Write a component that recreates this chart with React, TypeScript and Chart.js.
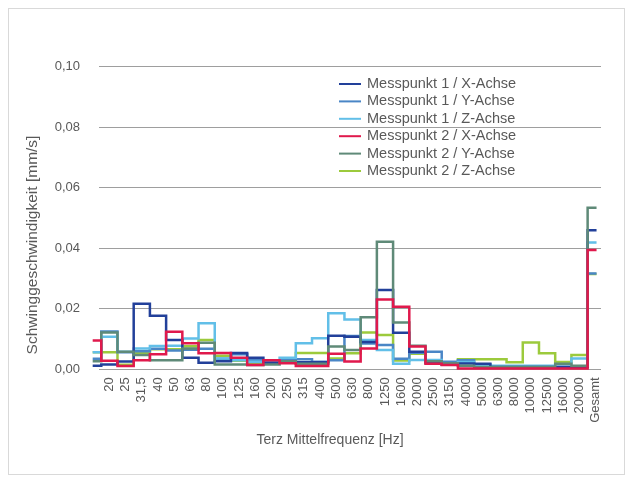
import React, { useEffect, useRef } from 'react';
import { Chart, registerables } from 'chart.js';

Chart.register(...registerables);

// Terz centre frequencies (x axis categories)
const categories = [
  '20', '25', '31,5', '40', '50', '63', '80', '100', '125', '160', '200', '250', '315', '400', '500',
  '630', '800', '1250', '1600', '2000', '2500', '3150', '4000', '5000', '6300', '8000', '10000',
  '12500', '16000', '20000', 'Gesamt',
];

// Each series: first value = lead-in level left of "20", then one value per category
const mp1X = [
  0.0012, 0.0016, 0.0026, 0.0217, 0.0177, 0.0097, 0.0038, 0.0022, 0.0027, 0.0054, 0.0038, 0.0022,
  0.0022, 0.0023, 0.0023, 0.0111, 0.0108, 0.0090, 0.0262, 0.0121, 0.0058, 0.0021, 0.0015, 0.0019,
  0.0018, 0.0008, 0.0008, 0.0008, 0.0008, 0.0008, 0.0008, 0.0460,
];
const mp1Y = [
  0.0035, 0.0125, 0.0056, 0.0060, 0.0068, 0.0062, 0.0065, 0.0068, 0.0035, 0.0050, 0.0030, 0.0022,
  0.0030, 0.0033, 0.0025, 0.0030, 0.0110, 0.0085, 0.0080, 0.0035, 0.0055, 0.0058, 0.0025, 0.0030,
  0.0015, 0.0008, 0.0008, 0.0008, 0.0008, 0.0008, 0.0008, 0.0317,
];
const mp1Z = [
  0.0056, 0.0108, 0.0058, 0.0069, 0.0077, 0.0078, 0.0102, 0.0152, 0.0036, 0.0030, 0.0025, 0.0025,
  0.0038, 0.0086, 0.0103, 0.0185, 0.0165, 0.0097, 0.0064, 0.0018, 0.0031, 0.0031, 0.0020, 0.0024,
  0.0014, 0.0012, 0.0012, 0.0012, 0.0012, 0.0017, 0.0036, 0.0419,
];
const mp2X = [
  0.0095, 0.0028, 0.0011, 0.0030, 0.0050, 0.0124, 0.0086, 0.0053, 0.0054, 0.0038, 0.0014, 0.0030,
  0.0020, 0.0011, 0.0011, 0.0051, 0.0026, 0.0069, 0.0231, 0.0207, 0.0075, 0.0018, 0.0014, 0.0003,
  0.0003, 0.0003, 0.0003, 0.0003, 0.0003, 0.0003, 0.0003, 0.0394,
];
const mp2Y = [
  0.0027, 0.0122, 0.0058, 0.0047, 0.0030, 0.0030, 0.0069, 0.0088, 0.0016, 0.0016, 0.0014, 0.0016,
  0.0027, 0.0018, 0.0018, 0.0075, 0.0064, 0.0172, 0.0422, 0.0155, 0.0078, 0.0027, 0.0020, 0.0012,
  0.0008, 0.0008, 0.0008, 0.0008, 0.0008, 0.0018, 0.0012, 0.0534,
];
const mp2Z = [
  0.0056, 0.0056, 0.0015, 0.0055, 0.0066, 0.0066, 0.0076, 0.0097, 0.0045, 0.0028, 0.0018, 0.0022,
  0.0025, 0.0054, 0.0054, 0.0036, 0.0053, 0.0122, 0.0113, 0.0029, 0.0051, 0.0025, 0.0021, 0.0033,
  0.0033, 0.0033, 0.0023, 0.0089, 0.0053, 0.0024, 0.0047, 0.0315,
];

const yTicks = [0, 0.02, 0.04, 0.06, 0.08, 0.1];

const seriesLabels = [
  'Messpunkt 1 / X-Achse',
  'Messpunkt 1 / Y-Achse',
  'Messpunkt 1 / Z-Achse',
  'Messpunkt 2 / X-Achse',
  'Messpunkt 2 / Y-Achse',
  'Messpunkt 2 / Z-Achse',
];
const seriesValues = [mp1X, mp1Y, mp1Z, mp2X, mp2Y, mp2Z];
const seriesColors = ['#22409a', '#4a86c6', '#62bfe8', '#e0194c', '#5f8a78', '#9cca3c'];
const drawOrder = [2, 4, 3, 0, 1, 5];

const FONT = '"Liberation Sans", Arial, Helvetica, sans-serif';
const TEXT = '#595959';
const LEAD_X = -0.53;
const END_X = 30.55;

function toPoints(values: number[]) {
  const pts = values.map((v, k) => ({ x: k === 0 ? LEAD_X : k - 1, y: v }));
  pts.push({ x: END_X, y: values[values.length - 1] });
  return pts;
}

const overlay = {
  id: 'overlay',
  afterDraw(chart: any) {
    const ctx = chart.ctx;
    ctx.save();
    ctx.fillStyle = TEXT;
    ctx.textBaseline = 'middle';
    ctx.textAlign = 'left';
    ctx.font = `14.5px ${FONT}`;
    seriesLabels.forEach((label, i) => {
      const y = 75 + i * 17.4;
      ctx.strokeStyle = seriesColors[i];
      ctx.lineWidth = 2;
      ctx.beginPath();
      ctx.moveTo(330, y);
      ctx.lineTo(352, y);
      ctx.stroke();
      ctx.fillText(label, 358, y);
    });
    ctx.font = `14px ${FONT}`;
    ctx.textAlign = 'center';
    ctx.fillText('Terz Mittelfrequenz [Hz]', 321, 431);
    ctx.font = `15.5px ${FONT}`;
    ctx.translate(24, 236);
    ctx.rotate(-Math.PI / 2);
    ctx.fillText('Schwinggeschwindigkeit [mm/s]', 0, 0);
    ctx.restore();
  },
};

export default function App() {
  const ref = useRef<HTMLCanvasElement>(null);
  useEffect(() => {
    if (!ref.current) return;
    const chart = new Chart(ref.current, {
      type: 'line',
      data: {
        datasets: seriesLabels.map((label, i) => ({
          label,
          data: toPoints(seriesValues[i]),
          borderColor: seriesColors[i],
          backgroundColor: seriesColors[i],
          borderWidth: 2.5,
          pointRadius: 0,
          stepped: true,
          fill: false,
          clip: false as any,
          order: drawOrder[i],
        })),
      },
      options: {
        responsive: false,
        animation: false,
        layout: { padding: { top: 57.8, right: 23, bottom: 0, left: 0 } },
        plugins: { legend: { display: false }, tooltip: { enabled: false } },
        scales: {
          x: {
            type: 'linear',
            min: -0.14,
            max: 30.825,
            grid: { display: false, drawTicks: false },
            border: { display: false },
            afterBuildTicks: (scale: any) => {
              scale.ticks = categories.map((_, i) => ({ value: i + 0.5 }));
            },
            afterFit: (scale: any) => {
              scale.height = 104.7;
            },
            ticks: {
              autoSkip: false,
              minRotation: 90,
              maxRotation: 90,
              padding: 8,
              color: TEXT,
              font: { family: FONT, size: 13 },
              callback: (_v: any, i: number) => categories[i],
            },
          },
          y: {
            min: 0,
            max: 0.1,
            afterBuildTicks: (scale: any) => {
              scale.ticks = yTicks.map((v) => ({ value: v }));
            },
            afterFit: (scale: any) => {
              scale.width = 90;
            },
            grid: { color: '#9e9e9e', lineWidth: 1, drawTicks: false },
            border: { display: false },
            ticks: {
              padding: 19,
              color: TEXT,
              font: { family: FONT, size: 13 },
              callback: (v: any) => Number(v).toFixed(2).replace('.', ','),
            },
          },
        },
      },
      plugins: [overlay],
    } as any);
    return () => chart.destroy();
  }, []);
  return (
    <div style={{ width: 615, height: 465, border: '1px solid #d9d9d9', background: '#fff' }}>
      <canvas ref={ref} width={615} height={465} style={{ display: 'block' }} />
    </div>
  );
}
